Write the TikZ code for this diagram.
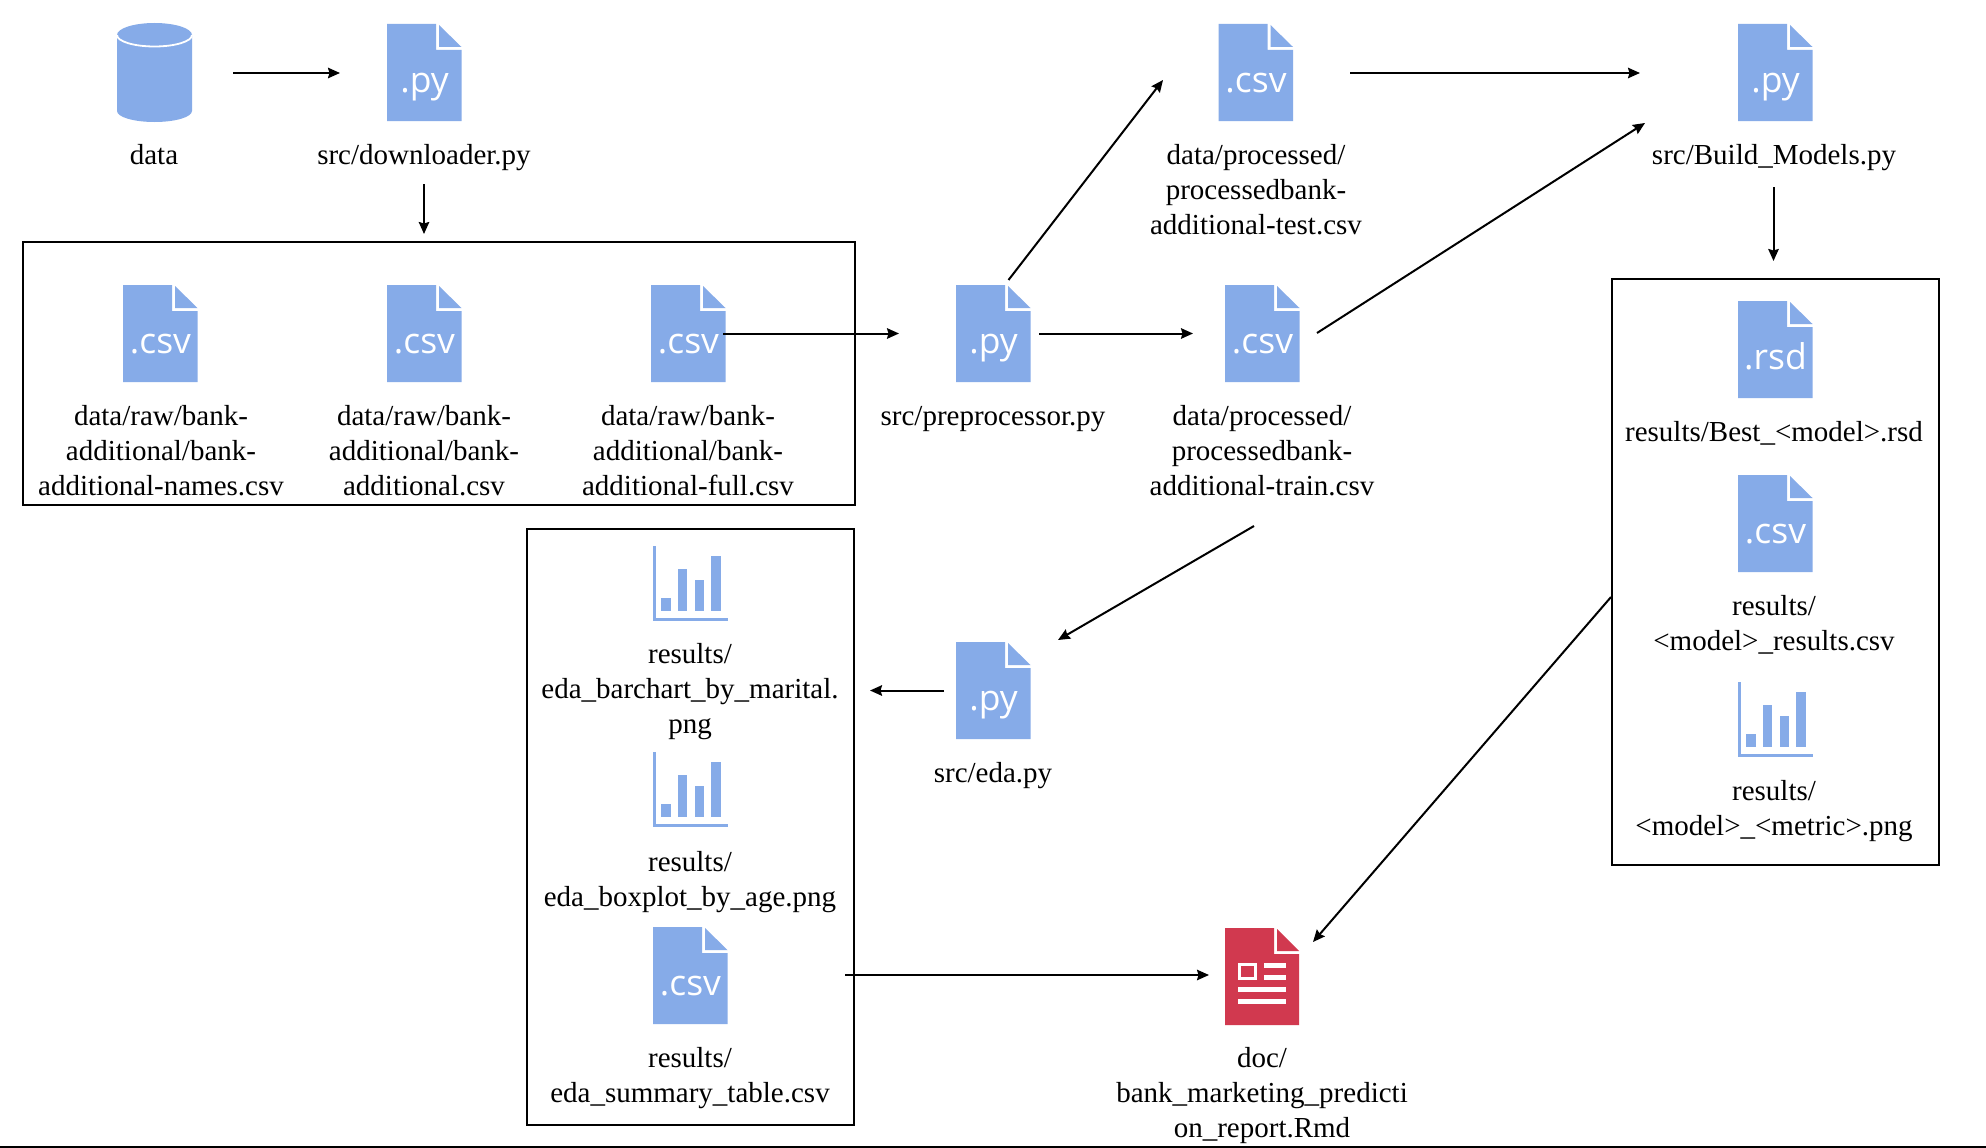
\documentclass[tikz,border=0pt]{standalone}
\usepackage{fontspec}
\setmainfont{Liberation Serif}
\newfontfamily\iconfont{Open Sans}
\usetikzlibrary{arrows.meta}
\definecolor{iconblue}{HTML}{86ABE8}
\definecolor{iconred}{HTML}{D1394F}
\tikzset{
  x=1pt,y=-1pt,
  conn/.style={line width=2pt,-{Stealth[length=12pt,width=10.5pt,inset=1.5pt]}},
  groupbox/.style={draw=black,line width=2.2pt,fill=none},
  lab/.style={anchor=north,align=center,inner sep=0pt,text=black,font=\fontsize{29}{34.9}\selectfont},
  icontext/.style={anchor=base,inner sep=0pt,text=white,font=\iconfont\fontsize{35.5}{35.5}\selectfont},
  holder/.style={inner sep=0pt,minimum width=75pt,minimum height=97pt,anchor=north west},
}
% x,y = top-left; name; text; colour
\newcommand{\fileicon}[5]{%
  \node[holder] (#1) at (#2,#3) {};
  \begin{scope}[shift={(#2,#3)}]
    \fill[#5] (0,0) -- (49,0) -- (49,26) -- (74.5,26) -- (74.5,97) -- (0,97) -- cycle;
    \fill[#5] (52,1) -- (74.5,23) -- (52,23) -- cycle;
    \node[icontext] (#1t) at (37.5,68.5) {#4};
  \end{scope}}
\newcommand{\charticon}[3]{%
  \node[holder,minimum height=75pt] (#1) at (#2,#3) {};
  \begin{scope}[shift={(#2,#3)}]
    \fill[iconblue] (0,0) rectangle (3,75);
    \fill[iconblue] (0,71.5) rectangle (75,75);
    \fill[iconblue] (8,52) rectangle (18,65);
    \fill[iconblue] (25,23) rectangle (34,65);
    \fill[iconblue] (41.5,34) rectangle (51,65);
    \fill[iconblue] (58,10) rectangle (68,65);
  \end{scope}}
% name, centre x, baseline y of first line, text
\newcommand{\lab}[4]{\node[lab] (#1) at (#2,#3-25.8) {\strut #4};}
\begin{document}
\begin{tikzpicture}
\useasboundingbox (0,0) rectangle (1986,1148);
\fill[white] (0,0) rectangle (1986,1148);
% group boxes
\node[groupbox,inner sep=0pt,minimum width=832pt,minimum height=263pt,anchor=north west] (boxraw) at (22,241) {};
\node[groupbox,inner sep=0pt,minimum width=327pt,minimum height=596pt,anchor=north west] (boxeda) at (526,528) {};
\node[groupbox,inner sep=0pt,minimum width=327pt,minimum height=586pt,anchor=north west] (boxres) at (1611,278) {};
% cylinder
\node[holder,minimum height=99pt] (data) at (117,23) {};
\fill[iconblue] (117,35) -- (117,111) arc[start angle=180,end angle=0,x radius=37.5,y radius=11] -- (192,35) -- cycle;
\fill[iconblue] (154.5,35) ellipse[x radius=37.5,y radius=12];
\draw[white,line width=1.8pt] (117,35) arc[start angle=180,end angle=0,x radius=37.5,y radius=11.5];
% top row
\fileicon{dl}{387}{24}{.py}{iconblue}
\fileicon{test}{1218.5}{24}{.csv}{iconblue}
\fileicon{build}{1738}{24}{.py}{iconblue}
% second row
\fileicon{names}{123}{285}{.csv}{iconblue}
\fileicon{add}{387}{285}{.csv}{iconblue}
\fileicon{full}{651}{285}{.csv}{iconblue}
\fileicon{prep}{956}{285}{.py}{iconblue}
\fileicon{train}{1225}{285}{.csv}{iconblue}
% results
\fileicon{rsd}{1738}{301}{.rsd}{iconblue}
\fileicon{rescsv}{1738}{475}{.csv}{iconblue}
\charticon{respng}{1738}{682}
% eda
\fileicon{eda}{956}{642}{.py}{iconblue}
\charticon{bar}{653}{546}
\charticon{box}{653}{752}
\fileicon{sumt}{653}{927}{.csv}{iconblue}
% report
\node[holder] (doc) at (1225,928) {};
\begin{scope}[shift={(1225,928)}]
  \fill[iconred] (0,0) -- (49,0) -- (49,26) -- (74,26) -- (74,97) -- (0,97) -- cycle;
  \fill[iconred] (52,1) -- (74,23) -- (52,23) -- cycle;
  \draw[white,line width=3pt] (14.5,36.5) rectangle (30.5,50.5);
  \fill[white] (39,35) rectangle (61,40);
  \fill[white] (39,47) rectangle (61,52);
  \fill[white] (13,59) rectangle (61,64);
  \fill[white] (13,71) rectangle (61,76);
\end{scope}
% labels
\lab{ldata}{154}{166}{data}
\lab{ldl}{424}{166}{src/downloader.py}
\lab{ltest}{1256}{166}{data/processed/\\processedbank-\\additional-test.csv}
\lab{lbuild}{1774}{166}{src/Build\_Models.py}
\lab{lnames}{161}{427}{data/raw/bank-\\additional/bank-\\additional-names.csv}
\lab{ladd}{424}{427}{data/raw/bank-\\additional/bank-\\additional.csv}
\lab{lfull}{688}{427}{data/raw/bank-\\additional/bank-\\additional-full.csv}
\lab{lprep}{993}{427}{src/preprocessor.py}
\lab{ltrain}{1262}{427}{data/processed/\\processedbank-\\additional-train.csv}
\lab{lrsd}{1774}{443}{results/Best\_<model>.rsd}
\lab{lrescsv}{1774}{617}{results/\\<model>\_results.csv}
\lab{lrespng}{1774}{802}{results/\\<model>\_<metric>.png}
\lab{leda}{993}{784}{src/eda.py}
\lab{lbar}{690}{665}{results/\\eda\_barchart\_by\_marital.\\png}
\lab{lbox}{690}{873}{results/\\eda\_boxplot\_by\_age.png}
\lab{lsum}{690}{1069}{results/\\eda\_summary\_table.csv}
\lab{ldoc}{1262}{1069}{doc/\\bank\_marketing\_predicti\\on\_report.Rmd}
% connector ends
\coordinate (a1) at (233,73);
\coordinate (a2) at (340,73);
\coordinate (b1) at (424,184);
\coordinate (b2) at (424,234);
\coordinate (c1) at (723,333.5);
\coordinate (c2) at (899,333.5);
\coordinate (d1) at (1039,333.5);
\coordinate (d2) at (1193,333.5);
\coordinate (e1) at (1008.5,280);
\coordinate (e2) at (1163,80);
\coordinate (f1) at (1350,73);
\coordinate (f2) at (1640,73);
\coordinate (g1) at (1317,333);
\coordinate (g2) at (1645,123);
\coordinate (h1) at (1773.5,187);
\coordinate (h2) at (1773.5,261);
\coordinate (i1) at (1254,526);
\coordinate (i2) at (1058,640);
\coordinate (j1) at (944,690.5);
\coordinate (j2) at (870,690.5);
\coordinate (k1) at (845,975);
\coordinate (k2) at (1209,975);
\coordinate (m1) at (1611,597);
\coordinate (m2) at (1313,942);
\draw[conn] (a1) -- (a2);
\draw[conn] (b1) -- (b2);
\draw[conn] (c1) -- (c2);
\draw[conn] (d1) -- (d2);
\draw[conn] (e1) -- (e2);
\draw[conn] (f1) -- (f2);
\draw[conn] (g1) -- (g2);
\draw[conn] (h1) -- (h2);
\draw[conn] (i1) -- (i2);
\draw[conn] (j1) -- (j2);
\draw[conn] (k1) -- (k2);
\draw[conn] (m1) -- (m2);
% bottom rule
\coordinate (r1) at (0,1146.5);
\coordinate (r2) at (1986,1146.5);
\draw[line width=2pt] (r1) -- (r2);
\end{tikzpicture}
\end{document}
